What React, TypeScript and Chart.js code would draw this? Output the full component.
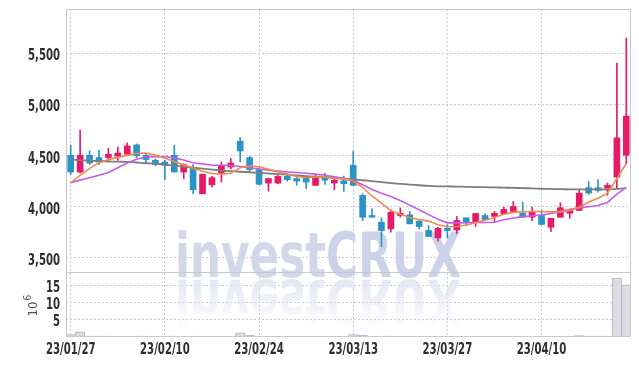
import React, { useEffect, useRef } from 'react';
import { Chart, registerables } from 'chart.js';

Chart.register(...registerables);

const DATES = [
  '23/01/27', '23/01/30', '23/01/31', '23/02/01', '23/02/02', '23/02/03', '23/02/06', '23/02/07', '23/02/08', '23/02/09',
  '23/02/10', '23/02/13', '23/02/14', '23/02/15', '23/02/16', '23/02/17', '23/02/20', '23/02/21', '23/02/22', '23/02/23',
  '23/02/24', '23/02/27', '23/02/28', '23/03/02', '23/03/03', '23/03/06', '23/03/07', '23/03/08', '23/03/09', '23/03/10',
  '23/03/13', '23/03/14', '23/03/15', '23/03/16', '23/03/17', '23/03/20', '23/03/21', '23/03/22', '23/03/23', '23/03/24',
  '23/03/27', '23/03/28', '23/03/29', '23/03/30', '23/03/31', '23/04/03', '23/04/04', '23/04/05', '23/04/06', '23/04/07',
  '23/04/10', '23/04/11', '23/04/12', '23/04/13', '23/04/14', '23/04/17', '23/04/18', '23/04/19', '23/04/20', '23/04/21',
];

const TICK_DATES = ['23/01/27', '23/02/10', '23/02/24', '23/03/13', '23/03/27', '23/04/10'];

const OPEN = [
  4503, 4339, 4503, 4480, 4480, 4493, 4513, 4604, 4503, 4454,
  4437, 4503, 4339, 4372, 4127, 4214, 4329, 4388, 4640, 4480,
  4363, 4231, 4231, 4297, 4275, 4297, 4209, 4290, 4231, 4254,
  4405, 4111, 3915, 3849, 3784, 3915, 3921, 3859, 3768, 3696,
  3790, 3774, 3892, 3846, 3915, 3906, 3931, 3954, 3937, 3898,
  3915, 3800, 3898, 3937, 3964, 4186, 4186, 4182, 4290, 4503,
];
const HIGH = [
  4601, 4748, 4545, 4552, 4569, 4584, 4624, 4614, 4513, 4467,
  4454, 4601, 4421, 4412, 4320, 4297, 4437, 4470, 4676, 4493,
  4380, 4280, 4323, 4305, 4285, 4300, 4307, 4329, 4297, 4300,
  4542, 4127, 3980, 3892, 3970, 3990, 3954, 3870, 3817, 3800,
  3826, 3905, 3892, 3935, 3931, 3954, 3996, 4052, 4046, 3996,
  3964, 3888, 4039, 3970, 4166, 4248, 4265, 4231, 5402, 5647,
];
const LOW = [
  4317, 4330, 4414, 4414, 4437, 4454, 4513, 4480, 4421, 4398,
  4267, 4339, 4274, 4127, 4127, 4192, 4241, 4372, 4437, 4339,
  4219, 4153, 4225, 4251, 4209, 4176, 4209, 4218, 4166, 4150,
  4209, 3865, 3898, 3611, 3751, 3898, 3833, 3784, 3709, 3663,
  3696, 3741, 3817, 3807, 3875, 3856, 3931, 3954, 3898, 3865,
  3827, 3758, 3898, 3888, 3964, 4121, 4143, 4111, 4176, 4421,
];
const CLOSE = [
  4339, 4503, 4427, 4437, 4513, 4525, 4594, 4498, 4461, 4412,
  4405, 4339, 4412, 4167, 4317, 4284, 4395, 4427, 4545, 4363,
  4219, 4275, 4297, 4265, 4251, 4241, 4284, 4260, 4258, 4225,
  4209, 3898, 3898, 3768, 3947, 3937, 3833, 3807, 3709, 3790,
  3768, 3866, 3849, 3934, 3875, 3937, 3974, 4003, 3898, 3947,
  3827, 3888, 3990, 3964, 4133, 4134, 4160, 4209, 4673, 4885,
];

// volume in millions of shares
const VOLUME_M = [
  0.7, 1.5, 0.3, 0.3, 0.3, 0.2, 0.2, 0.3, 0.3, 0.2,
  0.3, 0.3, 0.2, 0.3, 0.2, 0.2, 0.2, 0.2, 1.2, 0.5,
  0.2, 0.2, 0.2, 0.2, 0.2, 0.2, 0.2, 0.2, 0.2, 0.2,
  0.7, 0.5, 0.2, 0.3, 0.3, 0.2, 0.2, 0.2, 0.2, 0.2,
  0.2, 0.2, 0.2, 0.2, 0.2, 0.2, 0.2, 0.2, 0.2, 0.2,
  0.2, 0.2, 0.2, 0.2, 0.4, 0.3, 0.3, 0.3, 17.3, 15.3,
];

const MA5 = [
  4233, 4306, 4375, 4431, 4460, 4482, 4502, 4520, 4525, 4504,
  4474, 4442, 4409, 4378, 4346, 4325, 4318, 4327, 4382, 4401,
  4390, 4365, 4341, 4319, 4296, 4286, 4290, 4290, 4277, 4272,
  4251, 4188, 4105, 4035, 3962, 3926, 3895, 3875, 3860, 3825,
  3805, 3808, 3822, 3844, 3868, 3896, 3926, 3945, 3952, 3954,
  3954, 3950, 3950, 3965, 3996, 4047, 4083, 4130, 4277, 4422,
];
const MA10 = [
  4235, 4260, 4284, 4307, 4335, 4381, 4427, 4464, 4486, 4490,
  4490, 4477, 4457, 4429, 4419, 4405, 4405, 4403, 4393, 4381,
  4368, 4357, 4348, 4340, 4334, 4327, 4319, 4307, 4293, 4278,
  4256, 4214, 4168, 4132, 4100, 4062, 4016, 3970, 3923, 3879,
  3843, 3843, 3844, 3847, 3846, 3849, 3873, 3890, 3904, 3913,
  3920, 3934, 3955, 3976, 3989, 4000, 4012, 4042, 4124, 4189,
];
const MA_LONG = [
  4460, 4455, 4450, 4446, 4443, 4440, 4438, 4432, 4425, 4420,
  4412, 4402, 4391, 4381, 4372, 4363, 4355, 4348, 4342, 4337,
  4331, 4325, 4319, 4313, 4306, 4300, 4294, 4288, 4282, 4275,
  4267, 4259, 4250, 4240, 4231, 4224, 4217, 4210, 4203, 4200,
  4199, 4197, 4195, 4192, 4191, 4189, 4187, 4184, 4182, 4179,
  4176, 4174, 4172, 4170, 4169, 4169, 4169, 4169, 4175, 4181,
];

const PRICE_TICKS = [3500, 4000, 4500, 5000, 5500];
const VOLUME_TICKS = [5, 10, 15];

const UP = '#e61a68';
const DOWN = '#2b94c7';
const GRID = '#c6c6e0';
const FRAME = '#c8c8d2';
const LABEL_COLOR = '#2e2e2e';
const LABEL_FONT = "bold 15px 'DejaVu Sans Condensed', 'DejaVu Sans', sans-serif";

const priceLabel = (v: number) => v.toLocaleString('en-US');

// narrow tick-label text, placed on the chart's own scale positions
function drawNarrow(ctx: CanvasRenderingContext2D, text: string, x: number, y: number, align: CanvasTextAlign, sx: number) {
  ctx.save();
  ctx.translate(x, y);
  ctx.scale(sx, 1);
  ctx.textAlign = align;
  ctx.fillText(text, 0, 0);
  ctx.restore();
}

const decorPlugin = {
  id: 'decor',
  beforeDatasetsDraw(chart: any) {
    const ctx = chart.ctx as CanvasRenderingContext2D;
    const ca = chart.chartArea;
    ctx.save();
    ctx.beginPath();
    ctx.rect(ca.left, ca.top, ca.right - ca.left, ca.bottom - ca.top);
    ctx.clip();
    ctx.font = "bold 62px 'DejaVu Sans', sans-serif";
    ctx.textBaseline = 'alphabetic';
    const w1 = ctx.measureText('invest').width;
    const w2 = ctx.measureText('CRUX').width;
    const sx = 286 / (w1 + w2);
    const x0 = 175;
    const base = 277;
    ctx.save();
    ctx.translate(x0, base + 3);
    ctx.scale(sx, -1);
    const g = ctx.createLinearGradient(0, 0, 0, -42);
    g.addColorStop(0, 'rgba(226,229,241,0.9)');
    g.addColorStop(1, 'rgba(226,229,241,0.15)');
    ctx.fillStyle = g;
    ctx.fillText('invest', 0, 0);
    ctx.fillText('CRUX', w1, 0);
    ctx.restore();
    ctx.save();
    ctx.translate(x0, base);
    ctx.scale(sx, 1);
    ctx.fillStyle = '#d3d7ea';
    ctx.fillText('invest', 0, 0);
    ctx.fillStyle = '#ccd2e7';
    ctx.fillText('CRUX', w1, 0);
    ctx.restore();
    ctx.restore();
  },
  afterDraw(chart: any) {
    const ctx = chart.ctx as CanvasRenderingContext2D;
    const ca = chart.chartArea;
    const sep = Math.round(chart.scales.y.bottom) + 0.5;
    const l = Math.round(ca.left) + 0.5;
    const r = Math.round(ca.right) - 0.5;
    const t = Math.round(ca.top) + 0.5;
    const b = Math.round(ca.bottom) - 0.5;
    ctx.save();
    ctx.strokeStyle = FRAME;
    ctx.lineWidth = 1;
    ctx.beginPath();
    ctx.moveTo(l, t); ctx.lineTo(r, t); ctx.lineTo(r, b); ctx.lineTo(l, b); ctx.closePath();
    ctx.moveTo(l, sep); ctx.lineTo(r, sep);
    ctx.stroke();

    // tick labels (narrow face)
    ctx.font = LABEL_FONT;
    ctx.fillStyle = LABEL_COLOR;
    ctx.textBaseline = 'alphabetic';
    const sx = 32 / ctx.measureText('5,500').width;
    const ys = chart.scales.y;
    ys.ticks.forEach((tk: any) => {
      drawNarrow(ctx, priceLabel(tk.value), 60, ys.getPixelForValue(tk.value) + 7, 'right', sx);
    });
    const yv = chart.scales.yv;
    yv.ticks.forEach((tk: any) => {
      drawNarrow(ctx, String(tk.value), 60, yv.getPixelForValue(tk.value) + 6.5, 'right', sx);
    });
    const xs = chart.scales.x;
    xs.ticks.forEach((tk: any) => {
      drawNarrow(ctx, DATES[tk.value], xs.getPixelForValue(tk.value), 354, 'center', sx);
    });

    // 10^6 unit label
    const cy = (yv.top + yv.bottom) / 2 + 4;
    ctx.translate(37, cy + 8);
    ctx.rotate(-Math.PI / 2);
    ctx.fillStyle = '#555';
    ctx.font = "13px 'DejaVu Sans Condensed', 'DejaVu Sans', sans-serif";
    ctx.textAlign = 'left';
    ctx.fillText('10', 0, 0);
    const w = ctx.measureText('10').width;
    ctx.font = "10px 'DejaVu Sans Condensed', 'DejaVu Sans', sans-serif";
    ctx.fillText('6', w + 1, -6);
    ctx.restore();
  },
};

export default function App() {
  const ref = useRef<HTMLCanvasElement | null>(null);

  useEffect(() => {
    if (!ref.current) return;
    const colors = CLOSE.map((c, i) => (c >= OPEN[i] ? UP : DOWN));
    const chart = new Chart(ref.current, {
      type: 'bar',
      data: {
        labels: DATES,
        datasets: [
          {
            type: 'line', label: 'MA5', data: MA5, yAxisID: 'y',
            borderColor: '#ef8a4c', borderWidth: 1.6, pointRadius: 0, tension: 0, order: 0,
          },
          {
            type: 'line', label: 'MA10', data: MA10, yAxisID: 'y',
            borderColor: '#c45ce9', borderWidth: 1.6, pointRadius: 0, tension: 0, order: 0,
          },
          {
            type: 'line', label: 'MA60', data: MA_LONG, yAxisID: 'y',
            borderColor: '#7d7d7d', borderWidth: 1.8, pointRadius: 0, tension: 0.3, order: 0,
          },
          {
            type: 'bar', label: 'wick', data: LOW.map((l, i) => [l, HIGH[i]]), yAxisID: 'y',
            backgroundColor: colors, barThickness: 1, grouped: false, order: 2,
          },
          {
            type: 'bar', label: 'body', data: OPEN.map((o, i) => [o, CLOSE[i]]), yAxisID: 'y',
            backgroundColor: colors, barThickness: 6, minBarLength: 1, grouped: false, order: 1,
          },
          {
            type: 'bar', label: 'volume', data: VOLUME_M, yAxisID: 'yv',
            backgroundColor: '#dcdce4', borderColor: '#b4b4bd', borderWidth: 1,
            barPercentage: 1, categoryPercentage: 1, grouped: false, order: 3,
          },
        ] as any,
      },
      options: {
        responsive: false,
        devicePixelRatio: 1,
        animation: false,
        layout: { padding: { top: 9, right: 8, left: 0, bottom: 0 } },
        plugins: { legend: { display: false }, tooltip: { enabled: false } },
        scales: {
          x: {
            type: 'category',
            offset: true,
            grid: { offset: false, color: GRID, drawTicks: false, lineWidth: 1 },
            border: { display: false, dash: [2, 2] },
            ticks: { display: false, autoSkip: false, maxRotation: 0 },
            afterBuildTicks: (s: any) => {
              s.ticks = s.ticks.filter((t: any) => TICK_DATES.includes(DATES[t.value]));
            },
            afterFit: (s: any) => { s.height = 29; },
          },
          yv: {
            type: 'linear',
            position: 'left',
            stack: 'main',
            stackWeight: 65,
            min: 0,
            max: 19.1,
            afterBuildTicks: (s: any) => { s.ticks = VOLUME_TICKS.map((v) => ({ value: v })); },
            grid: { color: GRID, drawTicks: false },
            border: { display: false, dash: [2, 2] },
            ticks: { display: false, autoSkip: false },
            afterFit: (s: any) => { s.width = 66; },
          },
          y: {
            type: 'linear',
            position: 'left',
            stack: 'main',
            stackWeight: 263,
            min: 3363,
            max: 5931,
            afterBuildTicks: (s: any) => { s.ticks = PRICE_TICKS.map((v) => ({ value: v })); },
            grid: { color: GRID, drawTicks: false },
            border: { display: false, dash: [2, 2] },
            ticks: { display: false, autoSkip: false },
            afterFit: (s: any) => { s.width = 66; },
          },
        } as any,
      },
      plugins: [decorPlugin],
    });
    return () => chart.destroy();
  }, []);

  return (
    <div style={{ position: 'absolute', left: 0, top: 0, width: 639, height: 366, background: '#fff' }}>
      <canvas ref={ref} width={639} height={366} style={{ display: 'block' }} />
    </div>
  );
}
